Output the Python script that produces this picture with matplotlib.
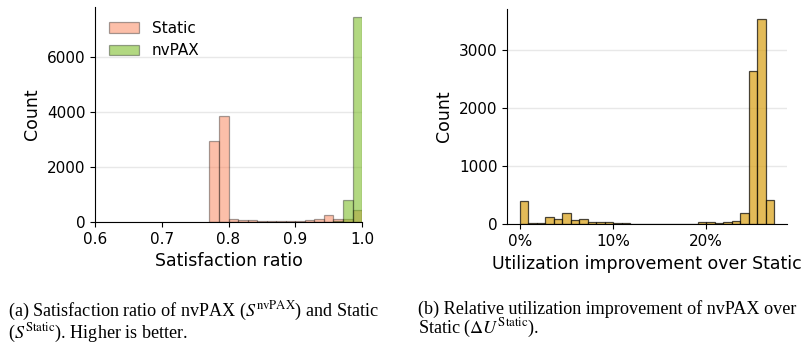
import numpy as np
import matplotlib
matplotlib.use("Agg")
import matplotlib.pyplot as plt
from matplotlib.ticker import PercentFormatter

# ---------------- data ----------------
sat_edges = np.linspace(0.7714, 1.0, 17)
static_counts = [2945, 3842, 97, 85, 60, 48, 36, 24, 36, 48, 60, 120, 267, 110, 120, 424]
nvpax_counts = [0, 0, 0, 0, 0, 0, 0, 0, 0, 0, 0, 0, 10, 25, 788, 7455]

util_edges = np.linspace(0.0, 27.3, 31)
util_counts = [403, 15, 15, 121, 92, 196, 69, 86, 35, 40, 35, 29, 17, 6, 6,
               6, 6, 6, 12, 12, 12, 35, 35, 29, 35, 52, 196, 2650, 3537, 415]

left_yticks = [0, 2000, 4000, 6000]
right_yticks = [0, 1000, 2000, 3000]
left_xticks = [0.6, 0.7, 0.8, 0.9, 1.0]
right_xticks = [0, 10, 20]

# ---------------- figure ----------------
plt.rcParams['font.family'] = ['DejaVu Sans']
plt.rcParams['mathtext.fontset'] = 'stix'

fig = plt.figure(figsize=(8.06, 3.44), dpi=100)
ax1 = fig.add_axes([0.1179, 0.3547, 0.3313, 0.625])
ax2 = fig.add_axes([0.6294, 0.348, 0.3467, 0.6258])

centers_s = (sat_edges[:-1] + sat_edges[1:]) / 2
ax1.hist(centers_s, bins=sat_edges, weights=static_counts,
         facecolor=(0.98, 0.50, 0.33, 0.5), edgecolor=(0, 0, 0, 0.35),
         linewidth=0.9, label='Static')
ax1.hist(centers_s, bins=sat_edges, weights=nvpax_counts,
         facecolor=(0.45, 0.72, 0.10, 0.55), edgecolor=(0, 0, 0, 0.35),
         linewidth=0.9, label='nvPAX')
ax1.set_xlim(0.6, 1.0)
ax1.set_xticks(left_xticks)
ax1.set_yticks(left_yticks)
ax1.set_xlabel('Satisfaction ratio', fontsize=12.5)
ax1.set_ylabel('Count', fontsize=12.5)
ax1.legend(loc='upper left', frameon=False, fontsize=11, handlelength=2.0,
           bbox_to_anchor=(0.0, 1.0))

centers_u = (util_edges[:-1] + util_edges[1:]) / 2
ax2.hist(centers_u, bins=util_edges, weights=util_counts,
         facecolor=(218/255, 165/255, 32/255, 0.75), edgecolor=(0, 0, 0, 0.7),
         linewidth=0.9)
ax2.set_xticks(right_xticks)
ax2.xaxis.set_major_formatter(PercentFormatter(xmax=100, decimals=0))
ax2.set_yticks(right_yticks)
ax2.set_xlabel('Utilization improvement over Static', fontsize=12.5)
ax2.set_ylabel('Count', fontsize=12.5)

for ax in (ax1, ax2):
    ax.spines['top'].set_visible(False)
    ax.spines['right'].set_visible(False)
    ax.tick_params(labelsize=11)
    ax.yaxis.grid(True, color='#e8e8e8', linewidth=1.0)
    ax.set_axisbelow(True)

cap_kw = dict(fontsize=13.1, family=['Liberation Serif', 'DejaVu Serif'],
              va='top', ha='left', linespacing=0.92)
fig.text(8/806, 1 - 300/344,
         "(a) Satisfaction ratio of nvPAX ($S^{\\mathrm{nvPAX}}$) and Static\n"
         "($S^{\\mathrm{Static}}$). Higher is better.", **cap_kw)
fig.text(418/806, 1 - 300/344,
         "(b) Relative utilization improvement of nvPAX over\n"
         "Static ($\\Delta U^{\\mathrm{Static}}$).", **cap_kw)

fig.savefig('out.png', dpi=100)
